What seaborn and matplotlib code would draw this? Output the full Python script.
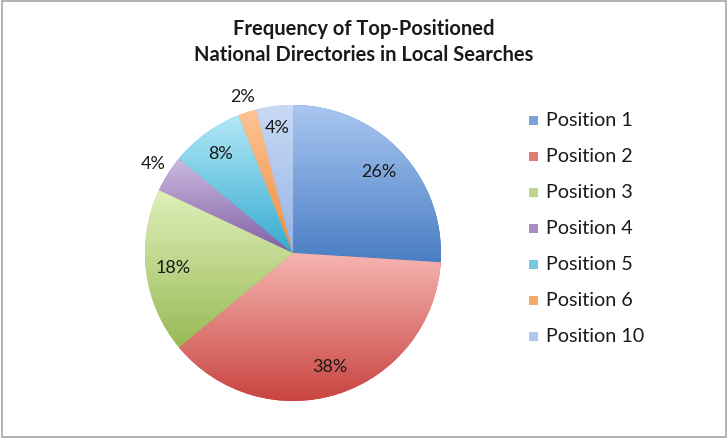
import numpy as np
import matplotlib
matplotlib.use("Agg")
import matplotlib.pyplot as plt
import matplotlib.colors as mcolors
from matplotlib.patches import Rectangle
import seaborn as sns

# Share of searches where each directory position comes out on top
positions = ["Position 1", "Position 2", "Position 3", "Position 4",
             "Position 5", "Position 6", "Position 10"]
shares = [26, 38, 18, 4, 8, 2, 4]

# Gradient colour pairs for each slice (top, bottom)
top_colors = ["#a9c7f1", "#f6b6b1", "#e0f0bb", "#cdbbe0", "#b2e8f7", "#fcc495", "#c9daf5"]
bottom_colors = ["#4a7ec4", "#c8423f", "#98ba55", "#7e60a4", "#36abd0", "#f08d3b", "#95b3e6"]

# Label placement: radius fraction for each slice label (>1 means outside)
label_radius = [0.80, 0.81, 0.82, 1.12, 0.83, 1.11, 0.85]

title_lines = ["Frequency of Top-Positioned", "National Directories in Local Searches"]

sns.set_theme(style="white")
plt.rcParams["font.family"] = ["Lato", "DejaVu Sans"]

W, H, DPI = 728, 440, 100
fig = plt.figure(figsize=(W / DPI, H / DPI), dpi=DPI)
fig.patch.set_facecolor("white")

# Chart frame
fig.add_artist(Rectangle((1.5 / W, 3.5 / H), (W - 4) / W, (H - 5) / H,
                         transform=fig.transFigure, fill=False,
                         edgecolor="#a6a6a6", linewidth=1.2))

cx, cy, r = 293, 253, 148
ax = fig.add_axes([(cx - r) / W, (H - cy - r) / H, 2 * r / W, 2 * r / H])
wedges, _ = ax.pie(shares, startangle=90, counterclock=False, radius=1,
                   colors=bottom_colors, wedgeprops=dict(linewidth=0))
ax.set_xlim(-1, 1)
ax.set_ylim(-1, 1)
ax.set_aspect("equal")
ax.axis("off")

# Vertical gradient fill inside each wedge
for w, c0, c1 in zip(wedges, top_colors, bottom_colors):
    verts = w.get_path().vertices
    x0, x1 = verts[:, 0].min(), verts[:, 0].max()
    y0, y1 = verts[:, 1].min(), verts[:, 1].max()
    cmap = mcolors.LinearSegmentedColormap.from_list("g", [c1, c0])
    grad = np.linspace(0, 1, 256).reshape(-1, 1)
    im = ax.imshow(grad, cmap=cmap, origin="lower", aspect="auto",
                   extent=(x0, x1, y0, y1), zorder=w.get_zorder() + 0.1)
    im.set_clip_path(w)
ax.set_xlim(-1, 1)
ax.set_ylim(-1, 1)

# Percentage labels
for w, s, lr in zip(wedges, shares, label_radius):
    ang = np.deg2rad((w.theta1 + w.theta2) / 2)
    ax.text(lr * np.cos(ang), lr * np.sin(ang), f"{s}%", ha="center", va="center",
            fontsize=13, color="#1a1a1a", zorder=10)

# Two-line title, each line placed on its own baseline
for line, base in zip(title_lines, [35, 61]):
    fig.text(364 / W, 1 - base / H, line, ha="center", va="baseline",
             fontsize=14.5, fontweight="bold", color="#1a1a1a")

# Legend
for i, (name, c0, c1) in enumerate(zip(positions, top_colors, bottom_colors)):
    y = 121 + i * 35.9
    fig.add_artist(Rectangle((529 / W, 1 - (y + 4.5) / H), 9 / W, 9 / H,
                             transform=fig.transFigure,
                             facecolor=mcolors.to_hex(np.mean([mcolors.to_rgb(c0), mcolors.to_rgb(c1)], axis=0)),
                             edgecolor="none"))
    fig.text(546 / W, 1 - y / H, name, ha="left", va="center",
             fontsize=14.2, color="#1a1a1a")

fig.savefig("out.png", dpi=DPI)
